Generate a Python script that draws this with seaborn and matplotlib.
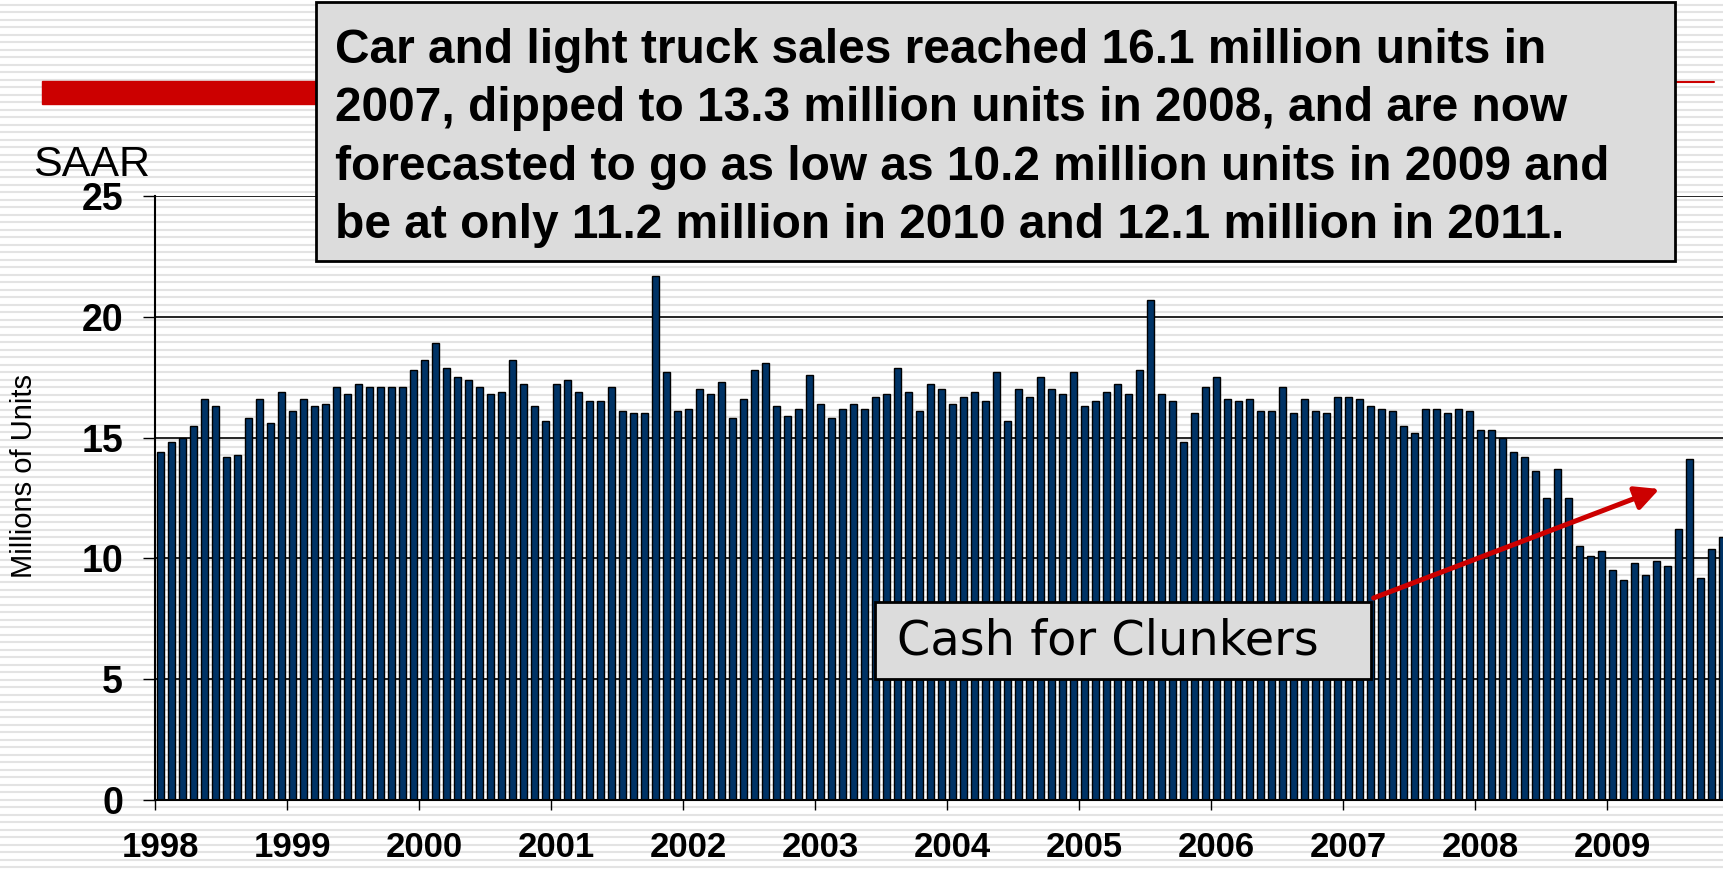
import numpy as np
import pandas as pd
import matplotlib
matplotlib.use('Agg')
import matplotlib.pyplot as plt
import seaborn as sns
from matplotlib.patches import Rectangle, FancyArrowPatch

# SAAR de ventas mensuales de autos y camionetas (millones de unidades)
sales_1998 = [14.4, 14.8, 15.0, 15.5, 16.6, 16.3, 14.2, 14.3, 15.8, 16.6, 15.6, 16.9]
sales_1999 = [16.1, 16.6, 16.3, 16.4, 17.1, 16.8, 17.2, 17.1, 17.1, 17.1, 17.1, 17.8]
sales_2000 = [18.2, 18.9, 17.9, 17.5, 17.4, 17.1, 16.8, 16.9, 18.2, 17.2, 16.3, 15.7]
sales_2001 = [17.2, 17.4, 16.9, 16.5, 16.5, 17.1, 16.1, 16.0, 16.0, 21.7, 17.7, 16.1]
sales_2002 = [16.2, 17.0, 16.8, 17.3, 15.8, 16.6, 17.8, 18.1, 16.3, 15.9, 16.2, 17.6]
sales_2003 = [16.4, 15.8, 16.2, 16.4, 16.2, 16.7, 16.8, 17.9, 16.9, 16.1, 17.2, 17.0]
sales_2004 = [16.4, 16.7, 16.9, 16.5, 17.7, 15.7, 17.0, 16.7, 17.5, 17.0, 16.8, 17.7]
sales_2005 = [16.3, 16.5, 16.9, 17.2, 16.8, 17.8, 20.7, 16.8, 16.5, 14.8, 16.0, 17.1]
sales_2006 = [17.5, 16.6, 16.5, 16.6, 16.1, 16.1, 17.1, 16.0, 16.6, 16.1, 16.0, 16.7]
sales_2007 = [16.7, 16.6, 16.3, 16.2, 16.1, 15.5, 15.2, 16.2, 16.2, 16.0, 16.2, 16.1]
sales_2008 = [15.3, 15.3, 15.0, 14.4, 14.2, 13.6, 12.5, 13.7, 12.5, 10.5, 10.1, 10.3]
sales_2009 = [9.5, 9.1, 9.8, 9.3, 9.9, 9.7, 11.2, 14.1, 9.2, 10.4, 10.9]

years = ['1998', '1999', '2000', '2001', '2002', '2003',
         '2004', '2005', '2006', '2007', '2008', '2009']
y_ticks = [0, 5, 10, 15, 20, 25]

note = ('Car and light truck sales reached 16.1 million units in\n'
        '2007, dipped to 13.3 million units in 2008, and are now\n'
        'forecasted to go as low as 10.2 million units in 2009 and\n'
        'be at only 11.2 million in 2010 and 12.1 million in 2011.')
callout = 'Cash for Clunkers'

W, H = 1724, 869


def fx(px):
    return px / W


def fy(py):
    # py medido desde arriba
    return (H - py) / H


def main():
    series = [sales_1998, sales_1999, sales_2000, sales_2001, sales_2002, sales_2003,
              sales_2004, sales_2005, sales_2006, sales_2007, sales_2008, sales_2009]
    rows = []
    for yr, vals in zip(years, series):
        for m, v in enumerate(vals):
            rows.append({'month': f'{yr}-{m + 1:02d}', 'saar': v})
    df = pd.DataFrame(rows)

    sns.set_theme(style='white')
    plt.rcParams['font.family'] = ['Liberation Sans', 'DejaVu Sans']
    plt.rcParams.update({'text.color': 'black', 'xtick.color': 'black',
                         'ytick.color': 'black', 'axes.labelcolor': 'black'})

    fig = plt.figure(figsize=(W / 100, H / 100), dpi=100)
    fig.patch.set_facecolor('white')

    # fondo rayado de la diapositiva
    bg = fig.add_axes([0, 0, 1, 1], zorder=-1)
    bg.set_xlim(0, W)
    bg.set_ylim(0, H)
    bg.axis('off')
    bg.hlines(np.arange(2, H, 7.5), 0, W, color='#e3e3e3', lw=1.5)

    ax = fig.add_axes([fx(155), fy(800), 1 - fx(155), fy(196) - fy(800)])
    ax.set_facecolor('none')
    sns.barplot(data=df, x='month', y='saar', color='#003366', saturation=1,
                width=0.66, edgecolor='black', linewidth=1, ax=ax, zorder=2)

    n = len(df)
    ax.set_xlim(-0.5, (W - 155) / 11 - 0.5)
    ax.set_ylim(0, 25)
    ax.set_yticks(y_ticks)
    ax.set_yticklabels([str(t) for t in y_ticks], fontsize=27, fontweight='bold')
    ax.tick_params(axis='y', length=9, width=1, color='black', pad=14, left=True)
    for t in y_ticks[1:]:
        ax.axhline(t, color='black', lw=1.2, zorder=1)

    ax.set_xticks(np.arange(0, n, 12))
    ax.set_xticklabels(years, fontsize=25, fontweight='bold')
    ax.tick_params(axis='x', which='major', length=0, pad=22)
    ax.set_xticks(np.arange(0, n, 12) - 0.5, minor=True)
    ax.tick_params(axis='x', which='minor', length=7, width=1, color='black',
                   direction='out', bottom=True)
    ax.set_xlabel('')
    ax.set_ylabel('')
    for s in ['top', 'right']:
        ax.spines[s].set_visible(False)
    for s in ['left', 'bottom']:
        ax.spines[s].set_color('black')
        ax.spines[s].set_linewidth(1.5)

    fig.text(fx(24), fy(476), 'Millions of Units', rotation=90, ha='center',
             va='center', fontsize=21)
    fig.text(fx(33), fy(176), 'SAAR', ha='left', va='baseline', fontsize=31)

    # barra roja del encabezado
    fig.patches.append(Rectangle((fx(42), fy(104)), fx(300), fy(81) - fy(104),
                                 transform=fig.transFigure, color='#cc0000', zorder=1))
    fig.lines.append(plt.Line2D([fx(1675), fx(1714)], [fy(82), fy(82)],
                                transform=fig.transFigure, color='#cc0000', lw=1.5))

    # cuadro de texto principal
    fig.patches.append(Rectangle((fx(316), fy(261)), fx(1675 - 316), fy(2) - fy(261),
                                 transform=fig.transFigure, facecolor='#dcdcdc',
                                 edgecolor='black', lw=2, zorder=2))
    fig.text(fx(335), fy(28), note, ha='left', va='top', fontsize=34.5,
             fontweight='bold', linespacing=1.38, zorder=3)

    # Cash for Clunkers
    fig.patches.append(Rectangle((fx(875), fy(679)), fx(1371 - 875), fy(602) - fy(679),
                                 transform=fig.transFigure, facecolor='#dcdcdc',
                                 edgecolor='black', lw=2, zorder=2))
    fig.text(fx(897), fy(641), callout, ha='left', va='center', fontsize=34.5,
             family='DejaVu Sans', zorder=3)
    arrow = FancyArrowPatch((fx(1371), fy(599)), (fx(1662), fy(488)),
                            transform=fig.transFigure, arrowstyle='-|>',
                            mutation_scale=36, color='#cc0000', lw=3.6, zorder=3)
    fig.patches.append(arrow)

    fig.savefig('out.png', dpi=100)


if __name__ == '__main__':
    main()
